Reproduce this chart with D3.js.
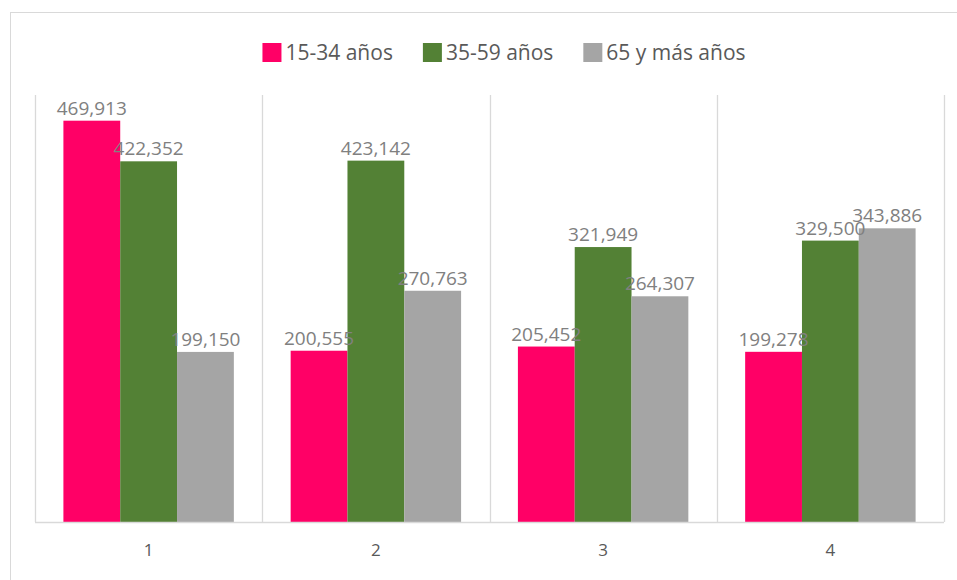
<!DOCTYPE html>
<html>
<head>
<meta charset="utf-8">
<script src="https://cdn.jsdelivr.net/npm/d3@7"></script>
<style>
  body { margin: 0; background: #fff; }
  svg { display: block; font-family: "Open Sans", sans-serif; }
</style>
</head>
<body>
<svg id="chart" width="957" height="580"></svg>
<script>
// data
let categories = ['1', '2', '3', '4']
let seriesNames = ['15-34 años', '35-59 años', '65 y más años']
let seriesColors = ['#FF0066', '#538135', '#A5A5A5']
let young = [469913, 200555, 205452, 199278]
let middle = [422352, 423142, 321949, 329500]
let older = [199150, 270763, 264307, 343886]

let series = [young, middle, older]

let svg = d3.select('#chart')

// outer frame of the chart
svg.append('rect')
    .attr('x', 10.5).attr('y', 12.5)
    .attr('width', 960).attr('height', 600)
    .attr('fill', 'none')
    .attr('stroke', '#d9d9d9')

let plotLeft = 35, plotRight = 944, plotTop = 95, plotBottom = 522

let x = d3.scaleBand()
    .domain(categories)
    .range([plotLeft, plotRight])
    .paddingInner(0)
    .paddingOuter(0)

let x1 = d3.scaleBand()
    .domain(seriesNames)
    .range([0, x.bandwidth()])
    .paddingInner(0)
    .paddingOuter(0.5)

let y = d3.scaleLinear()
    .domain([0, 500000])
    .range([plotBottom, plotTop])

// vertical category separators
let seps = d3.range(categories.length + 1).map((i) => plotLeft + i * x.step())
svg.selectAll('.sep')
    .data(seps)
    .enter()
    .append('line')
    .attr('x1', (d) => Math.round(d) + 0.5)
    .attr('x2', (d) => Math.round(d) + 0.5)
    .attr('y1', plotTop)
    .attr('y2', plotBottom)
    .attr('stroke', '#d9d9d9')
    .attr('stroke-width', 1.3)

// bars
let groups = svg.selectAll('.grp')
    .data(categories)
    .enter()
    .append('g')
    .attr('transform', (d) => 'translate(' + x(d) + ',0)')

groups.selectAll('rect')
    .data((d, i) => series.map((s, j) => ({ name: seriesNames[j], value: s[i], color: seriesColors[j] })))
    .enter()
    .append('rect')
    .attr('x', (d) => x1(d.name))
    .attr('y', (d) => y(d.value))
    .attr('width', x1.bandwidth())
    .attr('height', (d) => plotBottom - y(d.value))
    .attr('fill', (d) => d.color)

// baseline
svg.append('line')
    .attr('x1', plotLeft).attr('x2', plotRight)
    .attr('y1', plotBottom + 0.5).attr('y2', plotBottom + 0.5)
    .attr('stroke', '#d9d9d9')
    .attr('stroke-width', 1.3)

// value labels
let fmt = d3.format(',')
groups.selectAll('.lbl')
    .data((d, i) => series.map((s, j) => ({ name: seriesNames[j], value: s[i] })))
    .enter()
    .append('text')
    .attr('x', (d) => x1(d.name) + x1.bandwidth() / 2)
    .attr('y', (d) => y(d.value) - 6)
    .attr('text-anchor', 'middle')
    .style('font-size', '19px')
    .attr('fill', '#808080')
    .text((d) => fmt(d.value))

// x axis labels
svg.selectAll('.xlab')
    .data(categories)
    .enter()
    .append('text')
    .attr('x', (d) => x(d) + x.bandwidth() / 2)
    .attr('y', 556)
    .attr('text-anchor', 'middle')
    .style('font-size', '17px')
    .attr('fill', '#595959')
    .text((d) => d)

// legend
let legend = svg.append('g')
let lx = 0
seriesNames.forEach((name, i) => {
    let item = legend.append('g').attr('transform', 'translate(' + lx + ',0)')
    item.append('rect')
        .attr('x', 0).attr('y', 43)
        .attr('width', 19).attr('height', 19)
        .attr('fill', seriesColors[i])
    let t = item.append('text')
        .attr('x', 23).attr('y', 60)
        .style('font-size', '21px')
        .attr('fill', '#595959')
        .text(name)
    lx += 23 + t.node().getComputedTextLength() + 30
})
let legendWidth = lx - 30
legend.attr('transform', 'translate(' + (504 - legendWidth / 2) + ',0)')
</script>
</body>
</html>
